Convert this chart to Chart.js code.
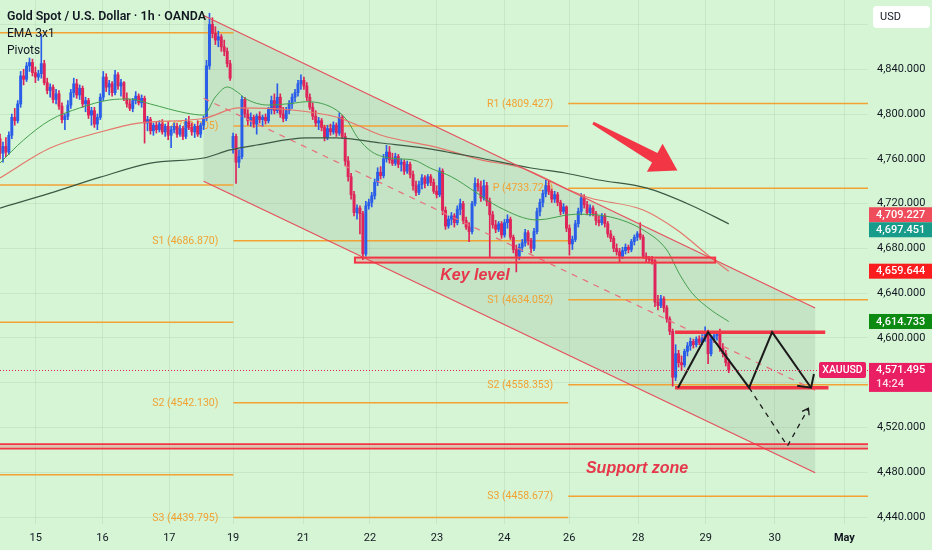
<!DOCTYPE html>
<html><head><meta charset="utf-8">
<script src="https://cdn.jsdelivr.net/npm/chart.js@4.4.1/dist/chart.umd.min.js"></script>
<style>html,body{margin:0;padding:0;background:#d5f5d5;}#wrap{width:932px;height:550px;position:relative;}canvas{display:block;}</style>
</head><body><div id="wrap"><canvas id="c"></canvas></div>
<script>
// ---- candles (1h, OANDA XAUUSD), bar index = hour slot ----
const opens = [4778,4765,4771,4766,4781,4797,4794,4809,4834,4831,4843,4846,4837,4833,4836,4845,4828,4821,4824,4813,
4818,4807,4795,4798,4808,4819,4827,4817,4823,4809,4812,4799,4803,4791,4797,4815,4833,4824,4827,4819,
4835,4825,4828,4814,4809,4805,4812,4816,4810,4814,4792,4795,4785,4790,4786,4791,4784,4789,4781,4786,
4789,4782,4787,4780,4793,4788,4784,4789,4782,4790,4796,4843,4880,4872,4866,4869,4860,4856,4845,4770,
4780,4757,4762,4813,4800,4794,4797,4791,4798,4795,4797,4794,4804,4812,4803,4815,4800,4796,4803,4809,
4815,4819,4827,4830,4825,4815,4806,4798,4792,4794,4788,4779,4787,4784,4790,4783,4797,4780,4758,4744,
4728,4712,4716,4711,4675,4718,4721,4727,4739,4748,4745,4760,4766,4759,4756,4762,4755,4757,4749,4755,
4746,4736,4730,4737,4743,4738,4744,4739,4731,4728,4749,4714,4700,4706,4709,4703,4715,4720,4705,4699,
4695,4720,4738,4735,4725,4736,4722,4710,4701,4697,4702,4692,4703,4706,4690,4679,4673,4681,4685,4694,
4687,4680,4695,4713,4721,4729,4736,4731,4724,4728,4721,4713,4717,4698,4684,4688,4702,4713,4725,4719,
4712,4716,4711,4705,4703,4709,4702,4693,4689,4680,4677,4673,4678,4681,4679,4686,4690,4693,4690,4673,
4671,4670,4669,4632,4629,4635,4627,4617,4606,4565,4586,4578,4576,4588,4593,4597,4594,4599,4596,4600,
4604,4586,4599,4602,4604,4591,4586,4578];
const highs = [4782,4775,4779,4784,4800,4805,4812,4838,4840,4846,4850,4849,4842,4839,4871,4848,4832,4827,4826,4822,
4821,4810,4800,4812,4822,4832,4831,4826,4825,4815,4814,4806,4806,4800,4818,4838,4836,4830,4829,4839,
4837,4831,4829,4819,4813,4814,4820,4818,4817,4816,4798,4797,4792,4793,4794,4795,4791,4793,4789,4792,
4792,4790,4789,4796,4798,4792,4791,4794,4792,4798,4848,4890,4886,4878,4874,4871,4866,4859,4848,4783,
4782,4768,4816,4815,4804,4801,4799,4800,4802,4799,4800,4806,4816,4818,4827,4818,4806,4806,4812,4818,
4822,4830,4835,4833,4828,4818,4810,4803,4797,4796,4790,4790,4791,4793,4792,4801,4799,4783,4762,4747,
4731,4719,4718,4713,4722,4724,4730,4742,4752,4753,4764,4772,4771,4765,4765,4764,4760,4759,4758,4757,
4749,4740,4740,4746,4745,4746,4746,4742,4736,4752,4751,4717,4709,4712,4711,4718,4724,4722,4708,4703,
4722,4743,4742,4740,4741,4739,4725,4713,4705,4704,4704,4706,4710,4708,4692,4683,4684,4688,4697,4696,
4689,4698,4716,4724,4732,4741,4740,4733,4731,4730,4723,4720,4718,4701,4691,4705,4716,4729,4728,4722,
4719,4718,4713,4709,4711,4711,4704,4696,4691,4684,4680,4681,4684,4683,4688,4692,4695,4703,4692,4676,
4673,4673,4670,4638,4638,4637,4629,4619,4608,4594,4589,4584,4590,4596,4600,4599,4601,4602,4603,4610,
4607,4602,4604,4606,4608,4595,4589,4581];
const lows = [4760,4757,4762,4764,4778,4790,4792,4806,4826,4829,4838,4834,4828,4830,4832,4826,4818,4815,4810,4809,
4804,4792,4786,4795,4805,4815,4814,4813,4806,4802,4796,4790,4788,4786,4795,4812,4820,4817,4816,4817,
4822,4816,4812,4806,4803,4802,4809,4808,4806,4774,4785,4782,4781,4783,4784,4782,4780,4777,4770,4783,
4779,4780,4777,4778,4786,4781,4779,4780,4779,4786,4794,4840,4868,4862,4860,4856,4852,4842,4830,4765,
4738,4752,4760,4797,4790,4789,4788,4782,4792,4789,4791,4792,4800,4800,4801,4797,4793,4794,4800,4805,
4811,4816,4822,4822,4812,4804,4795,4789,4786,4785,4776,4777,4781,4782,4780,4781,4778,4754,4740,4724,
4709,4706,4693,4670,4673,4715,4717,4724,4736,4742,4743,4757,4756,4754,4754,4752,4749,4746,4747,4743,
4732,4727,4728,4733,4734,4736,4736,4729,4725,4726,4710,4697,4698,4701,4699,4701,4710,4702,4697,4686,
4693,4718,4731,4722,4723,4718,4672,4698,4694,4695,4689,4690,4698,4688,4676,4659,4670,4677,4682,4683,
4676,4678,4693,4709,4717,4726,4728,4721,4721,4718,4710,4711,4695,4674,4679,4686,4699,4710,4716,4710,
4709,4709,4701,4700,4701,4699,4690,4686,4677,4674,4668,4671,4675,4676,4677,4683,4687,4688,4671,4668,
4667,4666,4628,4625,4627,4623,4614,4603,4557,4562,4574,4571,4574,4584,4589,4591,4592,4594,4594,4597,
4577,4584,4596,4598,4588,4583,4575,4569];
const closes = [4765,4771,4766,4781,4797,4794,4809,4834,4831,4843,4846,4837,4833,4836,4845,4828,4821,4824,4813,4818,
4807,4795,4798,4808,4819,4827,4817,4823,4809,4812,4799,4803,4791,4797,4815,4833,4824,4827,4819,4835,
4825,4828,4814,4809,4805,4812,4816,4810,4814,4792,4795,4785,4790,4786,4791,4784,4789,4781,4786,4789,
4782,4787,4780,4793,4788,4784,4789,4782,4790,4796,4843,4880,4872,4866,4869,4860,4856,4845,4832,4780,
4757,4762,4813,4800,4794,4797,4791,4798,4795,4797,4794,4804,4812,4803,4815,4800,4796,4803,4809,4815,
4819,4827,4830,4825,4815,4806,4798,4792,4794,4788,4779,4787,4784,4790,4783,4797,4780,4758,4744,4728,
4712,4716,4711,4675,4718,4721,4727,4739,4748,4745,4760,4766,4759,4756,4762,4755,4757,4749,4755,4746,
4736,4730,4737,4743,4738,4744,4739,4731,4728,4749,4714,4700,4706,4709,4703,4715,4720,4705,4699,4695,
4720,4738,4735,4725,4736,4722,4710,4701,4697,4702,4692,4703,4706,4690,4679,4673,4681,4685,4694,4687,
4680,4695,4713,4721,4729,4736,4731,4724,4728,4721,4713,4717,4698,4684,4688,4702,4713,4725,4719,4712,
4716,4711,4705,4703,4709,4702,4693,4689,4680,4677,4673,4678,4681,4679,4686,4690,4693,4690,4673,4671,
4670,4669,4632,4629,4635,4627,4617,4606,4565,4586,4578,4576,4588,4593,4597,4594,4599,4596,4600,4604,
4586,4599,4602,4604,4591,4586,4578,4571.495];

// ---- EMA lines ----
const emaFastX = [0,8,17,27,37,44,51,63,69,73,77,81,83,91,99,104,114,118,121,126,133,140,146,153,161,169,182,195,207,218,226,230.5,234.6,241,247];
const emaFastY = [4756.3,4776.8,4794.6,4805.4,4812.5,4813.4,4808.9,4800.9,4799,4815.2,4824.1,4818.5,4814,4808,4809.5,4811,4803.6,4793,4779.7,4766.3,4760.4,4759,4751.5,4744,4730.6,4717,4705.4,4710.5,4708,4696.4,4678.6,4656.2,4640,4625,4614.733];
const emaMidX = [0,17,34,47,69,81,99,114,121,129,149,163,177,193,200,218,229.5,240.7,247];
const emaMidY = [4742.9,4769.6,4783.9,4791.9,4796,4805.4,4803.6,4797.3,4790.2,4781.3,4769.6,4759,4751.8,4732.1,4725,4714.3,4696.4,4672.3,4659.644];
const emaSlowX = [0,17,34,51,69,78,87,104,114,129,144,151.5,161,180,191.5,203,219,234,247];
const emaSlowY = [4716,4729.3,4743.6,4756.1,4760.7,4767.9,4772.3,4778.6,4778.6,4774.1,4769.6,4766.1,4761.6,4751.8,4747.3,4741.1,4734,4718.8,4701.9];

// ---- axes ----
const dayTicks = [12.1,34.7,57.4,79,102.8,125.4,148.1,170.9,192.9,216.3,239.2,262.6,286.2];
const dayLabels = ['15','16','17','19','21','22','23','24','26','28','29','30','May'];
const priceTicks = [4440,4480,4520,4560,4600,4640,4680,4720,4760,4800,4840,4880];
const hiddenPriceTicks = [4560,4880];

// ---- weekly pivots ----
const pivotStart = [0,79.1,192.6];
const pivotEnd = [79.1,192.6,294.2];
const pivotNames = [['R1','P','S1','S2'],['P','S1','S2','S3'],['R1','P','S1','S2','S3']];
const pivotValues = [[4872.6,4736.6,4614.0,4477.9],[4789.205,4686.870,4542.130,4439.795],[4809.427,4733.728,4634.052,4558.353,4458.677]];

// ---- drawings ----
const channelUpper = [[69,4888],[276.3,4626.8]];
const channelLower = [[69,4740],[276.3,4479.7]];
const channelMid = [[69,4814],[276.3,4553.3]];
const keyLevel = [120.3,242.4,4671.8,4667.3];
const rangeTop = [228.8,279.7,4605.2];
const rangeBottom = [228.8,280.8,4555.6];
const supportZone = [0,294.2,4505.2,4501.2];
const zigzag = [[229.8,4555.6],[240,4605.2],[253.9,4555.6],[261.7,4605.2],[274.9,4555.6]];
const dashedPath = [[253.9,4555.6],[266.9,4503.6],[274,4537.2]];
const bigArrow = [[201,4792],[229.6,4749.5]];
const keyLevelText = [149.2,4656.1];
const supportText = [198.6,4483];

// ---- right-side value tags ----
const tagValues = [4709.227,4697.451,4659.644,4614.733];
const tagColors = ['#ef4d5c','#179c8b','#fb1d1d','#0d8a12'];
const countdown = '14:24';

const BG = '#d5f5d5', GRID = 'rgba(70,120,70,0.10)';
const UP = '#2a5de8', DOWN = '#de2459', RED = '#f23645', ORANGE = '#f2a233';
const FONT = 'Roboto, "Liberation Sans", sans-serif';
const fmt = v => v.toLocaleString('en-US',{minimumFractionDigits:3,maximumFractionDigits:3});

const idx = closes.map((_, i) => i);
const candleColors = idx.map(i => closes[i] >= opens[i] ? UP : DOWN);
const wickData = idx.map(i => ({x:i, y:[lows[i], highs[i]]}));
const bodyData = idx.map(i => ({x:i, y:[opens[i], closes[i]]}));
const toXY = (xs, ys) => xs.map((x, i) => ({x, y: ys[i]}));

function P(ch, b, v){ return [ch.scales.x.getPixelForValue(b), ch.scales.y.getPixelForValue(v)]; }
function path(ctx, pts){ ctx.beginPath(); pts.forEach((p,i)=> i?ctx.lineTo(p[0],p[1]):ctx.moveTo(p[0],p[1])); }
function head(ctx, from, to, len, ang){
  const a = Math.atan2(to[1]-from[1], to[0]-from[0]);
  ctx.beginPath();
  ctx.moveTo(to[0]-len*Math.cos(a-ang), to[1]-len*Math.sin(a-ang));
  ctx.lineTo(to[0], to[1]);
  ctx.lineTo(to[0]-len*Math.cos(a+ang), to[1]-len*Math.sin(a+ang));
  ctx.stroke();
}
function rrect(ctx, x, y, w, h, r){
  ctx.beginPath(); ctx.moveTo(x+r,y); ctx.lineTo(x+w-r,y); ctx.quadraticCurveTo(x+w,y,x+w,y+r);
  ctx.lineTo(x+w,y+h-r); ctx.quadraticCurveTo(x+w,y+h,x+w-r,y+h); ctx.lineTo(x+r,y+h);
  ctx.quadraticCurveTo(x,y+h,x,y+h-r); ctx.lineTo(x,y+r); ctx.quadraticCurveTo(x,y,x+r,y); ctx.closePath();
}

const drawings = {
  id: 'drawings',
  beforeDraw(ch){ const c = ch.ctx; c.save(); c.fillStyle = BG; c.fillRect(0,0,ch.width,ch.height); c.restore(); },
  beforeDatasetsDraw(ch){
    const c = ch.ctx, a = ch.chartArea;
    c.save(); c.beginPath(); c.rect(a.left, a.top, a.right-a.left, a.bottom-a.top); c.clip();
    path(c, [P(ch,...channelUpper[0]), P(ch,...channelUpper[1]), P(ch,...channelLower[1]), P(ch,...channelLower[0])]);
    c.closePath(); c.fillStyle = 'rgba(90,110,90,0.13)'; c.fill();
    c.font = '10.5px ' + FONT; c.textAlign = 'right'; c.textBaseline = 'middle';
    pivotValues.forEach((vals, k) => {
      vals.forEach((v, j) => {
        const [x0, y0] = P(ch, pivotStart[k], v), [x1] = P(ch, pivotEnd[k], v);
        c.strokeStyle = ORANGE; c.lineWidth = 1.5;
        c.beginPath(); c.moveTo(x0, y0); c.lineTo(x1, y0); c.stroke();
        c.fillStyle = ORANGE; c.fillText(pivotNames[k][j] + ' (' + v.toFixed(3) + ')', x0 - 15, y0 + 0.5);
      });
    });
    c.restore();
  },
  afterDatasetsDraw(ch){
    const c = ch.ctx, a = ch.chartArea;
    c.save(); c.beginPath(); c.rect(a.left, a.top, a.right-a.left, a.bottom-a.top); c.clip();
    c.strokeStyle = '#e6505c'; c.lineWidth = 1.2;
    path(c, [P(ch,...channelUpper[0]), P(ch,...channelUpper[1])]); c.stroke();
    path(c, [P(ch,...channelLower[0]), P(ch,...channelLower[1])]); c.stroke();
    c.setLineDash([6,6]); c.strokeStyle = '#e8707a';
    path(c, [P(ch,...channelMid[0]), P(ch,...channelMid[1])]); c.stroke();
    c.setLineDash([]);
    let [kx0, ky0] = P(ch, keyLevel[0], keyLevel[2]), [kx1, ky1] = P(ch, keyLevel[1], keyLevel[3]);
    c.fillStyle = 'rgba(242,54,69,0.22)'; c.fillRect(kx0, ky0, kx1-kx0, ky1-ky0);
    c.strokeStyle = RED; c.lineWidth = 2; c.strokeRect(kx0, ky0, kx1-kx0, ky1-ky0);
    c.lineWidth = 3.5; c.strokeStyle = RED;
    [rangeTop, rangeBottom].forEach(r => { const [x0,y0] = P(ch, r[0], r[2]), [x1] = P(ch, r[1], r[2]); c.beginPath(); c.moveTo(x0,y0); c.lineTo(x1,y0); c.stroke(); });
    let [sx0, sy0] = P(ch, supportZone[0], supportZone[2]), [sx1, sy1] = P(ch, supportZone[1], supportZone[3]);
    c.fillStyle = 'rgba(242,54,69,0.25)'; c.fillRect(sx0, sy0, sx1-sx0, sy1-sy0);
    c.lineWidth = 1.6; c.strokeStyle = RED;
    c.beginPath(); c.moveTo(sx0,sy0); c.lineTo(sx1,sy0); c.moveTo(sx0,sy1); c.lineTo(sx1,sy1); c.stroke();
    const zz = zigzag.map(p => P(ch, ...p));
    c.strokeStyle = '#1b1b1b'; c.lineWidth = 2; c.lineJoin = 'miter';
    path(c, zz); c.stroke();
    head(c, zz[zz.length-2], zz[zz.length-1], 14, 47*Math.PI/180);
    const dp = dashedPath.map(p => P(ch, ...p));
    c.lineWidth = 1.3; c.setLineDash([5,5]); path(c, dp); c.stroke(); c.setLineDash([]);
    head(c, dp[1], dp[2], 7, 35*Math.PI/180);
    const [tx, ty] = P(ch, ...bigArrow[0]), [hx, hy] = P(ch, ...bigArrow[1]);
    const L = Math.hypot(hx-tx, hy-ty), ux = (hx-tx)/L, uy = (hy-ty)/L, nx = -uy, ny = ux;
    const hl = 26, hw = 16, s0 = 1.5, s1 = 5.5, bx = hx-ux*hl, by = hy-uy*hl;
    path(c, [[tx+nx*s0,ty+ny*s0],[bx+nx*s1,by+ny*s1],[bx+nx*hw,by+ny*hw],[hx,hy],[bx-nx*hw,by-ny*hw],[bx-nx*s1,by-ny*s1],[tx-nx*s0,ty-ny*s0]]);
    c.closePath(); c.fillStyle = RED; c.fill();
    c.font = 'italic bold 16px "Liberation Sans", Arial, sans-serif'; c.fillStyle = '#e6374b'; c.textAlign = 'left'; c.textBaseline = 'middle';
    let [qx, qy] = P(ch, ...keyLevelText); c.fillText('Key level', qx, qy);
    [qx, qy] = P(ch, ...supportText); c.fillText('Support zone', qx, qy);
    const last = closes[closes.length-1], ly = ch.scales.y.getPixelForValue(last);
    c.strokeStyle = '#e91e63'; c.lineWidth = 1; c.setLineDash([1,2]);
    c.beginPath(); c.moveTo(a.left, Math.round(ly)+0.5); c.lineTo(a.right, Math.round(ly)+0.5); c.stroke(); c.setLineDash([]);
    c.restore();
  },
  afterDraw(ch){
    const c = ch.ctx, a = ch.chartArea, ys = ch.scales.y;
    c.save();
    const boxes = tagValues.map((v, i) => ({y: ys.getPixelForValue(v) - 7.5, v, col: tagColors[i]})).sort((p, q) => p.y - q.y);
    for (let i = 1; i < boxes.length; i++) { const ov = boxes[i-1].y + 15 - boxes[i].y; if (ov > 0) { boxes[i-1].y -= ov/2; boxes[i].y += ov/2; } }
    c.font = '500 11px ' + FONT; c.textBaseline = 'middle'; c.textAlign = 'left';
    boxes.forEach(b => { c.fillStyle = b.col; c.fillRect(a.right+1, b.y, 932-a.right-1, 15); c.fillStyle = '#fff'; c.fillText(fmt(b.v), a.right+8, b.y+8); });
    const last = closes[closes.length-1], ly = ys.getPixelForValue(last);
    c.fillStyle = '#e91e63'; c.fillRect(a.right+1, ly-7, 932-a.right-1, 29);
    c.fillStyle = '#fff'; c.fillText(fmt(last), a.right+8, ly+0.5);
    c.fillStyle = 'rgba(255,255,255,0.85)'; c.fillText(countdown, a.right+8, ly+14.5);
    c.fillStyle = '#e91e63'; rrect(c, a.right-49, ly-8, 47, 16, 2); c.fill();
    c.fillStyle = '#fff'; c.font = '500 10.5px ' + FONT; c.textAlign = 'center'; c.fillText('XAUUSD', a.right-25.5, ly+0.5);
    c.fillStyle = '#ffffff'; rrect(c, a.right+5, 6, 57, 22, 4); c.fill();
    c.fillStyle = '#131722'; c.font = '11px ' + FONT; c.textAlign = 'left'; c.fillText('USD', a.right+12, 17.5);
    c.fillStyle = '#131722'; c.textAlign = 'left'; c.textBaseline = 'middle';
    c.font = '600 12.4px ' + FONT; c.fillText('Gold Spot / U.S. Dollar · 1h · OANDA', 7, 16.5);
    c.font = '12px ' + FONT; c.fillText('EMA 3x1', 7, 33.5); c.fillText('Pivots', 7, 50.5);
    c.restore();
  }
};

new Chart(document.getElementById('c'), {
  type: 'bar',
  data: { datasets: [
    {type:'line', data: toXY(emaSlowX, emaSlowY), borderColor:'#3c5944', borderWidth:1.2, pointRadius:0, fill:false, cubicInterpolationMode:'monotone', order:0},
    {type:'line', data: toXY(emaMidX, emaMidY), borderColor:'#e5766a', borderWidth:1.2, pointRadius:0, fill:false, cubicInterpolationMode:'monotone', order:0},
    {type:'line', data: toXY(emaFastX, emaFastY), borderColor:'#46a04e', borderWidth:1, pointRadius:0, fill:false, cubicInterpolationMode:'monotone', order:0},
    {type:'bar', data: wickData, backgroundColor: candleColors, barThickness:1, grouped:false, borderWidth:0, order:4},
    {type:'bar', data: bodyData, backgroundColor: candleColors, barThickness:2.3, grouped:false, borderWidth:0, minBarLength:1, order:3}
  ]},
  options: {
    responsive:true, maintainAspectRatio:false, animation:false,
    layout:{padding:0},
    plugins:{legend:{display:false}, tooltip:{enabled:false}},
    scales:{
      x:{ type:'linear', min:0, max:294.2, offset:false,
        grid:{color:GRID, drawTicks:false, offset:false}, border:{display:false},
        afterBuildTicks: s => { s.ticks = dayTicks.map(v => ({value:v})); },
        ticks:{ autoSkip:false, maxRotation:0, padding:8, color:'#131722',
          font: c => ({family:FONT, size:11, weight: c.index === dayLabels.length-1 ? 'bold' : 'normal'}),
          callback: (v, i) => dayLabels[i] },
        afterFit: s => { s.height = 26; s.paddingLeft = 0; s.paddingRight = 0; }
      },
      y:{ type:'linear', position:'right', min:4433.9, max:4901.8,
        grid:{color:GRID, drawTicks:false}, border:{display:false},
        afterBuildTicks: s => { s.ticks = priceTicks.map(v => ({value:v})); },
        ticks:{ padding:9, color:'#131722', font:{family:FONT, size:11}, callback: v => hiddenPriceTicks.includes(v) ? '' : fmt(v) },
        afterFit: s => { s.width = 64; s.paddingTop = 0; s.paddingBottom = 0; }
      }
    }
  },
  plugins:[drawings]
});
</script>
</body></html>
